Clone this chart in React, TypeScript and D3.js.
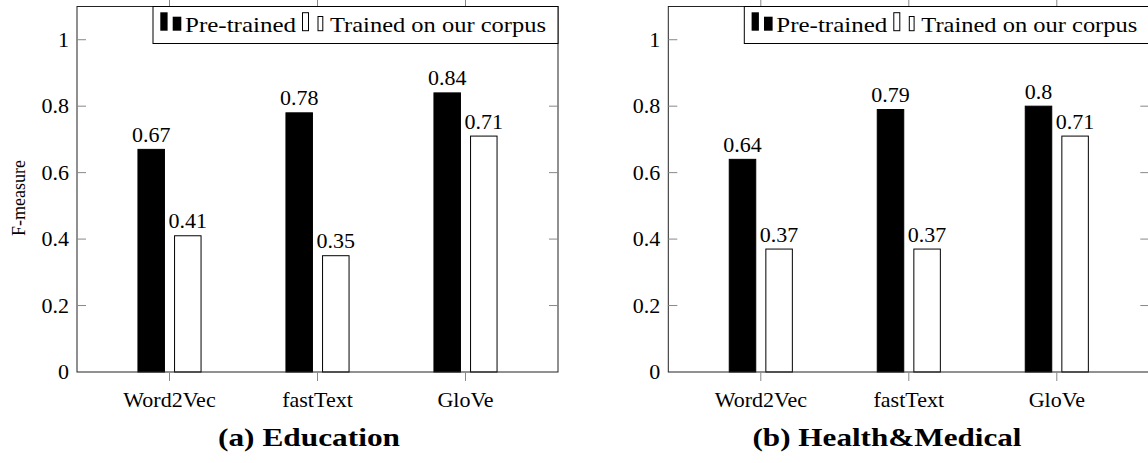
import React, { useRef, useEffect } from "react";
import { select, scaleLinear, scalePoint, scaleBand } from "d3";

const categories = ["Word2Vec", "fastText", "GloVe"];
const seriesNames = ["Pre-trained", "Trained on our corpus"];
const eduPretrained = [0.67, 0.78, 0.84];
const eduOwnCorpus = [0.41, 0.35, 0.71];
const healthPretrained = [0.64, 0.79, 0.8];
const healthOwnCorpus = [0.37, 0.37, 0.71];
const yTicks = [0, 0.2, 0.4, 0.6, 0.8, 1];

const FONT = "'Liberation Serif', 'DejaVu Serif', serif";
const TOP = 6.5;
const BOTTOM = 372;

function drawPanel(svg, left, right, series, caption, captionX, captionWidth, yLabel) {
  const g = svg.append("g");
  const x = scalePoint().domain(categories).range([left, right]).padding(0.625);
  const inner = scaleBand().domain(seriesNames).range([-31.55, 31.55]).paddingInner(0.276);
  const y = scaleLinear().domain([0, 1.1]).range([BOTTOM, TOP]);

  const fills = ["#000", "#fff"];

  // bars + value labels
  series.forEach((vals, si) => {
    const name = seriesNames[si];
    g.selectAll(".bar" + si)
      .data(vals)
      .join("rect")
      .attr("class", "bar" + si)
      .attr("x", (d, i) => x(categories[i]) + inner(name))
      .attr("y", (d) => y(d))
      .attr("width", inner.bandwidth())
      .attr("height", (d) => y(0) - y(d))
      .attr("fill", fills[si])
      .attr("stroke", "#000")
      .attr("stroke-width", 1);
    g.selectAll(".lbl" + si)
      .data(vals)
      .join("text")
      .attr("class", "lbl" + si)
      .attr("x", (d, i) => x(categories[i]) + inner(name) + inner.bandwidth() / 2)
      .attr("y", (d) => y(d) - 7.5)
      .attr("text-anchor", "middle")
      .attr("font-family", FONT)
      .attr("font-size", 22)
      .text((d) => String(d));
  });

  // frame
  g.append("rect")
    .attr("x", left)
    .attr("y", TOP)
    .attr("width", right - left)
    .attr("height", BOTTOM - TOP)
    .attr("fill", "none")
    .attr("stroke", "#222")
    .attr("stroke-width", 1);

  // y ticks (inside, both sides)
  yTicks.forEach((t) => {
    if (t > 0) {
      g.append("line").attr("x1", left).attr("x2", left + 9).attr("y1", y(t)).attr("y2", y(t)).attr("stroke", "#888");
      g.append("line").attr("x1", right - 9).attr("x2", right).attr("y1", y(t)).attr("y2", y(t)).attr("stroke", "#888");
    }
    g.append("text")
      .attr("x", left - 8)
      .attr("y", y(t) + 7)
      .attr("text-anchor", "end")
      .attr("font-family", FONT)
      .attr("font-size", 22)
      .text(String(t));
  });

  // x ticks (outside, top and bottom)
  categories.forEach((c) => {
    g.append("line").attr("x1", x(c)).attr("x2", x(c)).attr("y1", BOTTOM).attr("y2", BOTTOM + 9).attr("stroke", "#888");
    g.append("line").attr("x1", x(c)).attr("x2", x(c)).attr("y1", 0).attr("y2", TOP).attr("stroke", "#888");
    g.append("text")
      .attr("x", x(c))
      .attr("y", 406.5)
      .attr("text-anchor", "middle")
      .attr("font-family", FONT)
      .attr("font-size", 22)
      .text(c);
  });

  if (yLabel) {
    g.append("text")
      .attr("transform", `translate(25,198) rotate(-90)`)
      .attr("text-anchor", "middle")
      .attr("font-family", FONT)
      .attr("font-size", 18)
      .text(yLabel);
  }

  // legend
  const lx = right - 405;
  const lg = g.append("g");
  lg.append("rect")
    .attr("x", lx)
    .attr("y", TOP)
    .attr("width", 405)
    .attr("height", 37)
    .attr("fill", "#fff")
    .attr("stroke", "#000")
    .attr("stroke-width", 1);
  lg.append("rect").attr("x", lx + 7.3).attr("y", 12.3).attr("width", 7.3).attr("height", 18.4).attr("fill", "#000");
  lg.append("rect").attr("x", lx + 19.7).attr("y", 16.7).attr("width", 8.6).attr("height", 14).attr("fill", "#000");
  lg.append("text")
    .attr("x", lx + 32)
    .attr("y", 32)
    .attr("font-family", FONT)
    .attr("font-size", 22)
    .attr("textLength", 111)
    .attr("lengthAdjust", "spacingAndGlyphs")
    .text(seriesNames[0]);
  lg.append("rect").attr("x", lx + 149.5).attr("y", 12.7).attr("width", 6).attr("height", 18).attr("fill", "#fff").attr("stroke", "#000");
  lg.append("rect").attr("x", lx + 165).attr("y", 16.5).attr("width", 4.8).attr("height", 14.2).attr("fill", "#fff").attr("stroke", "#000");
  lg.append("text")
    .attr("x", lx + 177)
    .attr("y", 32)
    .attr("font-family", FONT)
    .attr("font-size", 22)
    .attr("textLength", 216)
    .attr("lengthAdjust", "spacingAndGlyphs")
    .text(seriesNames[1]);

  // caption (bold, wide like the original)
  g.append("text")
    .attr("x", captionX - captionWidth / 2)
    .attr("y", 446)
    .attr("font-family", FONT)
    .attr("font-size", 26)
    .attr("font-weight", "bold")
    .attr("textLength", captionWidth)
    .attr("lengthAdjust", "spacingAndGlyphs")
    .text(caption);
}

function App() {
  const svgRef = useRef(null);

  useEffect(() => {
    const svg = select(svgRef.current);
    svg.selectAll("*").remove();
    drawPanel(svg, 77, 558, [eduPretrained, eduOwnCorpus], "(a) Education", 309, 182, "F-measure");
    drawPanel(svg, 668.3, 1149.3, [healthPretrained, healthOwnCorpus], "(b) Health&Medical", 887, 269, null);
  }, []);

  return (
    <svg
      ref={svgRef}
      width={1148}
      height={463}
      style={{ position: "absolute", left: 0, top: 0, background: "#fff" }}
    />
  );
}

export default App;
